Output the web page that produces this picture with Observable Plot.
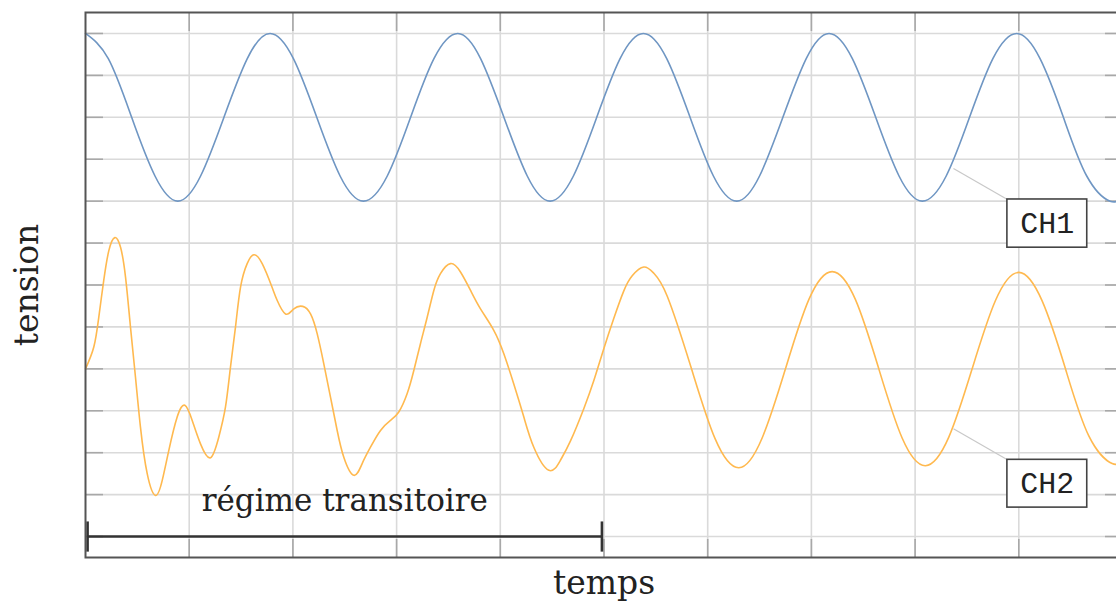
<!DOCTYPE html>
<html>
<head>
<meta charset="utf-8">
<script src="https://cdn.jsdelivr.net/npm/d3@7"></script>
<script src="https://cdn.jsdelivr.net/npm/@observablehq/plot@0.6"></script>
<style>
  html, body { margin: 0; padding: 0; background: #fff; overflow: hidden; width: 1116px; }
  #chart { width: 1116px; height: 603px; overflow: hidden; position: relative; }
  #chart svg { display: block; }
</style>
</head>
<body>
<div id="chart"></div>
<script>
// CH1
const ch1Time  = [0, 0.22, 0.445, 0.67, 0.89, 1.11, 1.335, 1.56, 1.78, 2.005, 2.23, 2.455, 2.68, 2.91, 3.135, 3.36, 3.59, 3.81, 4.035, 4.26, 4.48, 4.705, 4.93, 5.155, 5.38, 5.605, 5.83, 6.055, 6.28, 6.5, 6.725, 6.95, 7.17, 7.395, 7.62, 7.845, 8.07, 8.3, 8.525, 8.75, 8.98, 9.205, 9.43, 9.655, 9.88, 10];
const ch1Value = [6, 5.4, 4, 2.6, 2, 2.6, 4, 5.4, 6, 5.4, 4, 2.6, 2, 2.6, 4, 5.4, 6, 5.4, 4, 2.6, 2, 2.6, 4, 5.4, 6, 5.4, 4, 2.6, 2, 2.6, 4, 5.4, 6, 5.4, 4, 2.6, 2, 2.6, 4, 5.4, 6, 5.4, 4, 2.6, 2, 2.1];

// CH2
const ch2Time  = [0, 0.08, 0.128, 0.176, 0.225, 0.283, 0.338, 0.386, 0.434, 0.482, 0.53, 0.595, 0.675, 0.74, 0.803, 0.884, 0.958, 1.029, 1.109, 1.205, 1.285, 1.35, 1.398, 1.446, 1.495, 1.559, 1.623, 1.704, 1.8, 1.849, 1.929, 2.009, 2.095, 2.17, 2.234, 2.298, 2.363, 2.427, 2.491, 2.587, 2.668, 2.748, 2.845, 2.941, 3.021, 3.102, 3.166, 3.23, 3.295, 3.359, 3.423, 3.52, 3.616, 3.713, 3.809, 3.937, 4.034, 4.13, 4.227, 4.323, 4.468, 4.58, 4.677, 4.805, 4.902, 4.998, 5.094, 5.191, 5.272, 5.384, 5.48, 5.61, 5.84, 6.07, 6.30, 6.525, 6.75, 6.975, 7.20, 7.425, 7.65, 7.875, 8.10, 8.325, 8.55, 8.775, 9.00, 9.225, 9.45, 9.675, 9.90, 10];
const ch2Value = [-2.0, -1.48, -0.77, 0.11, 0.82, 1.13, 0.90, 0.19, -1.01, -2.20, -3.39, -4.50, -5.02, -4.66, -3.95, -3.15, -2.87, -3.23, -3.79, -4.12, -3.63, -2.91, -1.96, -1.01, -0.05, 0.51, 0.72, 0.51, -0.06, -0.37, -0.69, -0.57, -0.51, -0.69, -1.16, -1.88, -2.68, -3.47, -4.11, -4.54, -4.26, -3.87, -3.47, -3.23, -3.03, -2.59, -2.04, -1.40, -0.77, -0.13, 0.27, 0.51, 0.31, -0.13, -0.57, -1.08, -1.64, -2.36, -3.15, -3.87, -4.42, -4.18, -3.72, -2.95, -2.28, -1.52, -0.80, -0.14, 0.22, 0.43, 0.28, -0.27, -1.97, -3.66, -4.36, -3.65, -2.0, -0.35, 0.32, -0.35, -2.0, -3.65, -4.31, -3.63, -2.0, -0.37, 0.30, -0.38, -2.0, -3.6, -4.26, -4.15];

// grid / tick positions
const xTicks = [1, 2, 3, 4, 5, 6, 7, 8, 9];
const yTicks = [-6, -5, -4, -3, -2, -1, 0, 1, 2, 3, 4, 5, 6];

// annotation: transient regime bracket
const bracketText = ["régime transitoire"];
const bracketStart = [0.02];
const bracketEnd = [4.98];
const bracketLevel = [-6];
const bracketHalf = [0.36];
const bracketTextLevel = [-5.15];

// channel labels
const labelNames  = ["CH1", "CH2"];
const labelLeft   = [8.89, 8.89];
const labelRight  = [9.66, 9.66];
const labelTop    = [2.04, -4.17];
const labelBottom = [0.89, -5.31];
const leaderT     = [8.37, 8.37];
const leaderV     = [2.78, -3.43];

const ch1 = ch1Time.map((t, i) => ({t, v: ch1Value[i]}));
const ch2 = ch2Time.map((t, i) => ({t, v: ch2Value[i]}));
const labels = labelNames.map((name, i) => ({
  name, x1: labelLeft[i], x2: labelRight[i], y1: labelBottom[i], y2: labelTop[i],
  lt: leaderT[i], lv: leaderV[i]
}));
const bracket = bracketText.map((text, i) => ({
  text, a: bracketStart[i], b: bracketEnd[i], y: bracketLevel[i], h: bracketHalf[i], ty: bracketTextLevel[i]
}));

const serif = "DejaVu Serif";
const gridColor = "#dadada";
const tickColor = "#a8a8a8";
const PAGE_W = 1116, PAGE_H = 603;

const chart = Plot.plot({
  width: 1130,
  height: PAGE_H,
  marginLeft: 85,
  marginRight: 8,
  marginTop: 12,
  marginBottom: 46,
  x: {domain: [0, 10], axis: null},
  y: {domain: [-6.5, 6.5], axis: null},
  marks: [
    Plot.ruleX(xTicks, {stroke: gridColor, strokeWidth: 1.6}),
    Plot.ruleY(yTicks, {stroke: gridColor, strokeWidth: 1.6}),
    Plot.axisY(yTicks, {anchor: "left", tickSize: -18, tickFormat: () => "", stroke: tickColor, strokeWidth: 1.6, label: null}),
    Plot.axisY(yTicks, {anchor: "right", tickSize: -18, tickFormat: () => "", stroke: tickColor, strokeWidth: 1.6, label: null}),
    Plot.axisX(xTicks, {anchor: "bottom", tickSize: -18, tickFormat: () => "", stroke: tickColor, strokeWidth: 1.6, label: null}),
    Plot.axisX(xTicks, {anchor: "top", tickSize: -18, tickFormat: () => "", stroke: tickColor, strokeWidth: 1.6, label: null}),
    Plot.line(ch1, {x: "t", y: "v", curve: "natural", stroke: "#6f96c3", strokeWidth: 1.6}),
    Plot.line(ch2, {x: "t", y: "v", curve: "natural", stroke: "#ffb94f", strokeWidth: 1.6}),
    // bracket
    Plot.link(bracket, {x1: "a", x2: "b", y1: "y", y2: "y", stroke: "#333", strokeWidth: 2.6}),
    Plot.link(bracket, {x1: "a", x2: "a", y1: d => d.y - d.h, y2: d => d.y + d.h, stroke: "#333", strokeWidth: 2.6}),
    Plot.link(bracket, {x1: "b", x2: "b", y1: d => d.y - d.h, y2: d => d.y + d.h, stroke: "#333", strokeWidth: 2.6}),
    Plot.text(bracket, {x: d => (d.a + d.b) / 2, y: "ty", text: "text", fontFamily: serif, fontSize: 31, fill: "#222"}),
    // labels
    Plot.link(labels, {x1: "lt", y1: "lv", x2: "x1", y2: "y2", stroke: "#c8c8c8", strokeWidth: 1.2}),
    Plot.rect(labels, {x1: "x1", x2: "x2", y1: "y1", y2: "y2", fill: "white", stroke: "#444", strokeWidth: 1.6}),
    Plot.text(labels, {x: d => (d.x1 + d.x2) / 2, y: d => (d.y1 + d.y2) / 2, text: "name", fontFamily: "Liberation Mono", fontSize: 30, fill: "#222"}),
    Plot.frame({stroke: "#555", strokeWidth: 2}),
    // axis titles
    Plot.text(["temps"], {text: d => d, frameAnchor: "bottom", dy: 26, lineAnchor: "middle", textAnchor: "middle", fontFamily: serif, fontSize: 33, fill: "#222"}),
    Plot.text(["tension"], {text: d => d, frameAnchor: "left", dx: -58, rotate: -90, lineAnchor: "middle", textAnchor: "middle", fontFamily: serif, fontSize: 33, fill: "#222"})
  ]
});
// show only the left 1116 px of the drawing (the right frame edge lies just beyond the window, as in the reference)
chart.setAttribute("width", PAGE_W);
chart.setAttribute("viewBox", `0 0 ${PAGE_W} ${PAGE_H}`);
document.getElementById("chart").append(chart);
</script>
</body>
</html>
